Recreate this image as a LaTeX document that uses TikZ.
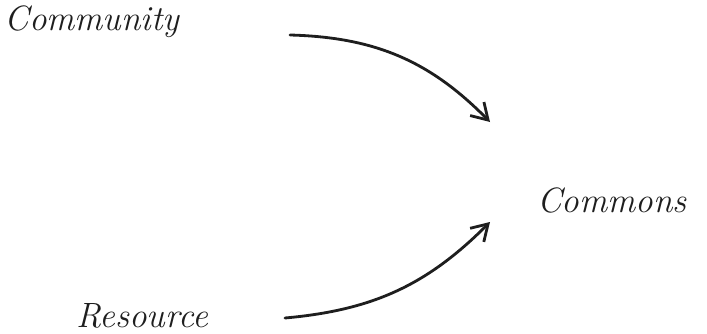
\documentclass[tikz,border=0pt]{standalone}
\usetikzlibrary{arrows.meta,positioning}
\definecolor{ink}{RGB}{30,30,30}
\tikzset{
  every picture/.style={color=ink, line width=1.6pt},
  word/.style={font=\fontsize{20}{24}\selectfont\itshape, inner sep=0pt, text=ink},
  flow/.style={-{Straight Barb[length=9pt,width=11pt,line width=1.6pt]}, line width=1.6pt, line cap=round},
}

\begin{document}
\begin{tikzpicture}
  \useasboundingbox (0,0) rectangle (14.14,6.66);
  \node[word] (community) at (1.84,6.22) {Community};
  \node[word] (commons) at (12.24,2.66) {Commons};
  \node[word] (resource) at (2.84,0.34) {Resource};
  \coordinate (upstart) at (5.8,5.96);
  \coordinate (upend) at (9.8,4.22);
  \coordinate (lowstart) at (5.7,0.3);
  \coordinate (lowend) at (9.8,2.22);
  \draw[flow] (upstart) to[bend left=22] (upend);
  \draw[flow] (lowstart) to[bend right=20] (lowend);
\end{tikzpicture}
\end{document}
